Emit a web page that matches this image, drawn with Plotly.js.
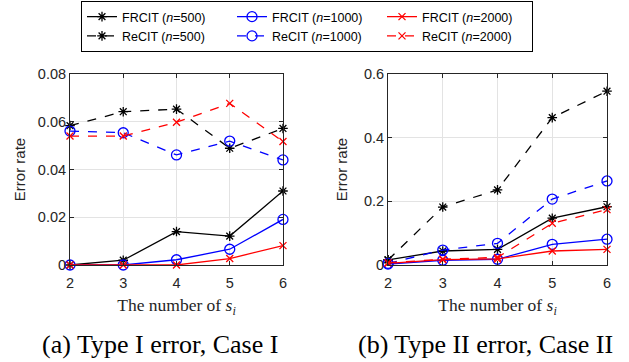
<!DOCTYPE html>
<html>
<head>
<meta charset="utf-8">
<script src="https://cdn.plot.ly/plotly-3.0.1.min.js"></script>
<style>html,body{margin:0;padding:0;background:#fff;}#chart{width:629px;height:362px;}</style>
</head>
<body>
<div id="chart"></div>
<script>
// x values: number of s_i
const xVals = [2, 3, 4, 5, 6];

// (a) Type I error, Case I
const a_FRCIT500  = [0, 0.002, 0.014, 0.0121, 0.031];
const a_FRCIT1000 = [0, 0, 0.0022, 0.0066, 0.0191];
const a_FRCIT2000 = [0, 0, 0, 0.0027, 0.0081];
const a_ReCIT500  = [0.0584, 0.0642, 0.0653, 0.0489, 0.0572];
const a_ReCIT1000 = [0.0561, 0.0554, 0.0461, 0.0519, 0.0440];
const a_ReCIT2000 = [0.0540, 0.0540, 0.0598, 0.0677, 0.0517];

// (b) Type II error, Case II
const b_FRCIT500  = [0.016, 0.044, 0.049, 0.147, 0.183];
const b_FRCIT1000 = [0.003, 0.015, 0.018, 0.065, 0.081];
const b_FRCIT2000 = [0.005, 0.017, 0.019, 0.044, 0.049];
const b_ReCIT500  = [0.016, 0.182, 0.236, 0.463, 0.546];
const b_ReCIT1000 = [0.005, 0.047, 0.068, 0.207, 0.264];
const b_ReCIT2000 = [0.007, 0.018, 0.024, 0.131, 0.174];

const seriesNames = ['FRCIT (<i>n</i>=500)', 'FRCIT (<i>n</i>=1000)', 'FRCIT (<i>n</i>=2000)',
                     'ReCIT (<i>n</i>=500)', 'ReCIT (<i>n</i>=1000)', 'ReCIT (<i>n</i>=2000)'];
const captions = ['(a) Type I error, Case I', '(b) Type II error, Case II'];
const yTicksA = [0, 0.02, 0.04, 0.06, 0.08];
const yTicksB = [0, 0.2, 0.4, 0.6];

const styles = [
  {color: '#000000', symbol: 'asterisk-open', size: 8, dash: 'solid'},
  {color: '#0000ff', symbol: 'circle-open', size: 10, dash: 'solid'},
  {color: '#ff0000', symbol: 'x-thin-open', size: 7, dash: 'solid'},
  {color: '#000000', symbol: 'asterisk-open', size: 8, dash: 'dash'},
  {color: '#0000ff', symbol: 'circle-open', size: 10, dash: 'dash'},
  {color: '#ff0000', symbol: 'x-thin-open', size: 7, dash: 'dash'}
];

const dataA = [a_FRCIT500, a_FRCIT1000, a_FRCIT2000, a_ReCIT500, a_ReCIT1000, a_ReCIT2000];
const dataB = [b_FRCIT500, b_FRCIT1000, b_FRCIT2000, b_ReCIT500, b_ReCIT1000, b_ReCIT2000];

function mk(y, i, xa, ya, show) {
  const s = styles[i];
  return {
    x: xVals, y: y, xaxis: xa, yaxis: ya, name: seriesNames[i],
    type: 'scatter', mode: 'lines+markers', showlegend: show, cliponaxis: false,
    line: {color: s.color, width: 1.3, dash: s.dash},
    marker: {symbol: s.symbol, size: s.size, color: s.color, line: {color: s.color, width: 1.3}}
  };
}

const traces = [];
dataA.forEach((y, i) => traces.push(mk(y, i, 'x', 'y', true)));
dataB.forEach((y, i) => traces.push(mk(y, i, 'x2', 'y2', false)));

const tickFont = {family: 'Liberation Sans, Arial, sans-serif', size: 14.5, color: '#262626'};
const axBase = {
  showline: true, linecolor: '#262626', linewidth: 1, mirror: 'ticks',
  ticks: 'inside', ticklen: 4, tickcolor: '#262626',
  showgrid: true, gridcolor: '#e3e3e3', zeroline: false, tickfont: tickFont
};
const xTitle = {text: 'The number of <i>s</i><sub><i>i</i></sub>',
  font: {family: 'Liberation Serif, Times New Roman, serif', size: 17.5, color: '#262626'}, standoff: 8};
const yTitleFont = {family: 'Liberation Sans, Arial, sans-serif', size: 15, color: '#262626'};

const layout = {
  width: 629, height: 362,
  margin: {l: 70, r: 22, t: 74, b: 97},
  paper_bgcolor: '#ffffff', plot_bgcolor: '#ffffff',
  font: {family: 'Liberation Sans, Arial, sans-serif', color: '#000'},
  xaxis: Object.assign({}, axBase, {domain: [0, 0.3966], range: [2, 6], tickvals: xVals, ticklabelstandoff: 5, title: xTitle, anchor: 'y'}),
  yaxis: Object.assign({}, axBase, {domain: [0, 1], range: [0, 0.08], tickvals: yTicksA, ticktext: ['0','0.02','0.04','0.06','0.08'],
    title: {text: 'Error rate', font: yTitleFont, standoff: 8}, anchor: 'x'}),
  xaxis2: Object.assign({}, axBase, {domain: [0.5922, 1], range: [2, 6], tickvals: xVals, ticklabelstandoff: 5, title: xTitle, anchor: 'y2'}),
  yaxis2: Object.assign({}, axBase, {domain: [0, 1], range: [0, 0.6], tickvals: yTicksB, ticktext: ['0','0.2','0.4','0.6'],
    title: {text: 'Error rate', font: yTitleFont, standoff: 12}, anchor: 'x2'}),
  showlegend: true,
  legend: {
    orientation: 'h', xref: 'container', yref: 'container',
    x: 81 / 629, xanchor: 'left', y: 1 - 1 / 362, yanchor: 'top',
    entrywidth: 105, entrywidthmode: 'pixels', traceorder: 'normal',
    bordercolor: '#000000', borderwidth: 1, bgcolor: '#ffffff',
    font: {family: 'Liberation Sans, Arial, sans-serif', size: 12.5, color: '#000'},
    itemwidth: 30
  },
  annotations: [
    {text: captions[0], xref: 'paper', yref: 'paper', x: (160 - 70) / 537, y: -0.418, xanchor: 'center', yanchor: 'middle', showarrow: false,
     font: {family: 'Liberation Serif, Times New Roman, serif', size: 26, color: '#000'}},
    {text: captions[1], xref: 'paper', yref: 'paper', x: (485.5 - 70) / 537, y: -0.418, xanchor: 'center', yanchor: 'middle', showarrow: false,
     font: {family: 'Liberation Serif, Times New Roman, serif', size: 26, color: '#000'}}
  ]
};

Plotly.newPlot('chart', traces, layout, {displayModeBar: false, staticPlot: true});
</script>
</body>
</html>
